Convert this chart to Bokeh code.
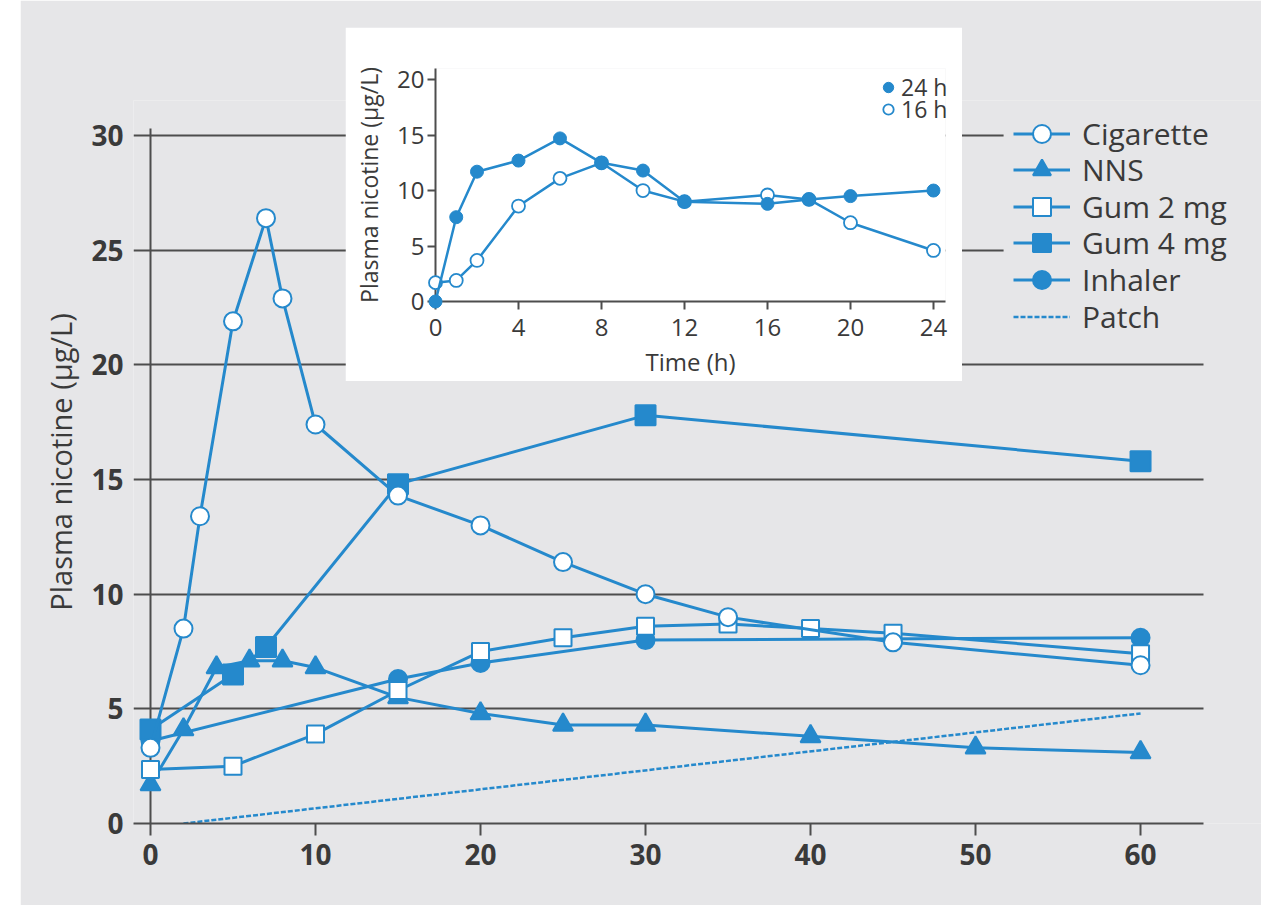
from bokeh.plotting import figure
from bokeh.models import Legend, LegendItem, FixedTicker, Range1d, Grid, BoxAnnotation
from bokeh.embed import file_html
from bokeh.resources import INLINE

# ---------------- data ----------------
cig_x = [0, 2, 3, 5, 7, 8, 10, 15, 20, 25, 30, 35, 45, 60]
cig_y = [3.3, 8.5, 13.4, 21.9, 26.4, 22.9, 17.4, 14.3, 13.0, 11.4, 10.0, 9.0, 7.9, 6.9]

nns_x = [0, 2, 4, 6, 8, 10, 15, 20, 25, 30, 40, 50, 60]
nns_y = [1.7, 4.1, 6.8, 7.1, 7.1, 6.8, 5.5, 4.8, 4.3, 4.3, 3.8, 3.3, 3.1]

gum2_x = [0, 5, 10, 15, 20, 25, 30, 35, 40, 45, 60]
gum2_y = [2.35, 2.5, 3.9, 5.8, 7.5, 8.1, 8.6, 8.7, 8.5, 8.3, 7.4]

gum4_x = [0, 5, 7, 15, 30, 60]
gum4_y = [4.1, 6.5, 7.7, 14.8, 17.8, 15.8]

inh_x = [0, 15, 20, 30, 60]
inh_y = [3.6, 6.3, 7.0, 8.0, 8.1]

patch_x = [2, 60]
patch_y = [0, 4.8]

main_xticks = [0, 10, 20, 30, 40, 50, 60]
main_yticks = [0, 5, 10, 15, 20, 25, 30]

h24_t = [0, 1, 2, 4, 6, 8, 10, 12, 16, 18, 20, 24]
h24_v = [0, 7.6, 11.7, 12.7, 14.7, 12.5, 11.8, 9.0, 8.8, 9.2, 9.5, 10.0]
h16_t = [0, 1, 2, 4, 6, 8, 10, 12, 16, 18, 20, 24]
h16_v = [1.7, 1.9, 3.7, 8.6, 11.1, 12.5, 10.0, 9.0, 9.6, 9.2, 7.1, 4.6]

inset_xticks = [0, 4, 8, 12, 16, 20, 24]
inset_yticks = [0, 5, 10, 15, 20]

# ---------------- style ----------------
BLUE = "#2589cc"
BG = "#e6e6e8"
GRID = "#4d4d4d"
TXT = "#3a3a3a"
FONT = "Open Sans"

# ---------------- main figure ----------------
# page px: frame left 133, x=0 at 150, 16.5 px/unit; y=0 at 823, 22.93 px/unit
X0, X1 = -1.03, 67.33          # x-range (frame reaches the right edge so the legend is not clipped)
Y1 = 31.53                     # y-range top (frame reaches above the legend)
AX_END = 63.82                 # where the axis rule / grid lines stop
Y_AX_TOP = 30.31               # top of the vertical axis line

p = figure(width=1241, height=905, x_range=Range1d(X0, X1), y_range=Range1d(0, Y1),
           output_backend="svg", toolbar_location=None,
           min_border_left=113, min_border_right=0, min_border_top=100, min_border_bottom=82)
p.margin = (0, 0, 0, 20)
p.background_fill_color = BG
p.border_fill_color = BG
p.outline_line_color = None

has_cross = "cross_bounds" in Grid.properties()

p.ygrid.ticker = FixedTicker(ticks=main_yticks)
p.ygrid.grid_line_color = GRID
p.ygrid.grid_line_width = 2
# vertical grid used as the y-axis rule at x = 0
p.xgrid.ticker = FixedTicker(ticks=[0])
p.xgrid.grid_line_color = GRID
p.xgrid.grid_line_width = 2
if has_cross:
    p.ygrid.cross_bounds = (X0, AX_END)
    p.xgrid.cross_bounds = (0, Y_AX_TOP)
else:
    p.ygrid.visible = False
    p.xgrid.visible = False
    p.segment(x0=[X0] * len(main_yticks), x1=[AX_END] * len(main_yticks),
              y0=main_yticks, y1=main_yticks, line_color=GRID, line_width=2)
    p.segment(x0=[0], x1=[0], y0=[0], y1=[Y_AX_TOP], line_color=GRID, line_width=2)

p.xaxis.ticker = FixedTicker(ticks=main_xticks)
p.xaxis.bounds = (X0, AX_END)
p.xaxis.axis_line_color = GRID
p.xaxis.axis_line_width = 2
p.xaxis.major_tick_line_color = GRID
p.xaxis.major_tick_line_width = 2
p.xaxis.major_tick_out = 12
p.xaxis.major_tick_in = 0
p.xaxis.minor_tick_line_color = None
p.xaxis.major_label_standoff = 8
p.xaxis.major_label_text_font = FONT
p.xaxis.major_label_text_font_size = "28px"
p.xaxis.major_label_text_font_style = "bold"
p.xaxis.major_label_text_color = TXT

p.yaxis.ticker = FixedTicker(ticks=main_yticks)
p.yaxis.axis_line_color = None
p.yaxis.major_tick_line_color = None
p.yaxis.minor_tick_line_color = None
p.yaxis.major_tick_out = 0
p.yaxis.major_tick_in = 0
p.yaxis.major_label_standoff = 10
p.yaxis.major_label_text_font = FONT
p.yaxis.major_label_text_font_size = "28px"
p.yaxis.major_label_text_font_style = "bold"
p.yaxis.major_label_text_color = TXT
p.yaxis.axis_label = "Plasma nicotine (µg/L)"
p.yaxis.axis_label_text_font = FONT
p.yaxis.axis_label_text_font_style = "normal"
p.yaxis.axis_label_text_font_size = "29px"
p.yaxis.axis_label_text_color = TXT
p.yaxis.axis_label_standoff = 8

items = {}
def series(xs, ys, marker, fill, label, size):
    l = p.line(xs, ys, line_color=BLUE, line_width=3)
    s = p.scatter(xs, ys, marker=marker, size=size, line_color=BLUE, line_width=2,
                  fill_color=fill)
    items[label] = LegendItem(label=label, renderers=[l, s])

pl = p.line(patch_x, patch_y, line_color=BLUE, line_width=2.5, line_dash="5 2")
series(inh_x, inh_y, "circle", BLUE, "Inhaler", 18)
series(nns_x, nns_y, "triangle", BLUE, "NNS", 20)
series(gum2_x, gum2_y, "square", "white", "Gum 2 mg", 17)
series(gum4_x, gum4_y, "square", BLUE, "Gum 4 mg", 20)
series(cig_x, cig_y, "circle", "white", "Cigarette", 18)
items["Patch"] = LegendItem(label="Patch", renderers=[pl])
order = ["Cigarette", "NNS", "Gum 2 mg", "Gum 4 mg", "Inhaler", "Patch"]

# opaque legend panel (hides the grid lines behind the key, as in the original)
p.add_layout(BoxAnnotation(left=51.7, bottom=21.15, fill_color=BG, fill_alpha=1,
                           line_color=None))

# one single-row legend per entry so the row pitch can be tighter than the glyph box
for i, name in enumerate(order):
    row_center = 133 + 36.6 * i          # page px
    loc_y = 823 - (row_center + 22.5)    # from frame bottom
    lg = Legend(items=[items[name]], location=(880, loc_y))
    lg.background_fill_alpha = 0
    lg.border_line_color = None
    lg.padding = 0
    lg.margin = 0
    lg.spacing = 0
    lg.glyph_width = 57
    lg.glyph_height = 45
    lg.label_height = 45
    lg.label_standoff = 12
    lg.label_text_font = FONT
    lg.label_text_font_size = "30px"
    lg.label_text_color = TXT
    p.add_layout(lg)

# ---------------- inset: axes layer ----------------
IW, IH = 617, 354
IL, IR, IT, IB = 90, 17, 41, 80
ix_end, iy_end = 24.58, 21.0
q = figure(width=IW, height=IH, x_range=Range1d(0, ix_end), y_range=Range1d(0, iy_end),
           output_backend="svg", toolbar_location=None,
           min_border_left=IL, min_border_right=IR, min_border_top=IT, min_border_bottom=IB)
q.background_fill_color = "white"
q.border_fill_color = "white"
q.outline_line_color = None
q.grid.visible = False
for ax, ticks in ((q.xaxis, inset_xticks), (q.yaxis, inset_yticks)):
    ax.ticker = FixedTicker(ticks=ticks)
    ax.axis_line_color = GRID
    ax.axis_line_width = 2
    ax.major_tick_line_color = GRID
    ax.major_tick_line_width = 2
    ax.major_tick_out = 8
    ax.major_tick_in = 0
    ax.minor_tick_line_color = None
    ax.major_label_text_font = FONT
    ax.major_label_text_font_size = "24px"
    ax.major_label_text_color = TXT
    ax.axis_label_text_font = FONT
    ax.axis_label_text_font_style = "normal"
    ax.axis_label_text_color = TXT
q.xaxis.major_label_standoff = 9
q.yaxis.major_label_standoff = 3
q.xaxis.axis_label = "Time (h)"
q.xaxis.axis_label_text_font_size = "24px"
q.xaxis.axis_label_standoff = 6
q.yaxis.axis_label = "Plasma nicotine (µg/L)"
q.yaxis.axis_label_text_font_size = "23px"
q.yaxis.axis_label_standoff = 9

# ---------------- inset: data layer (same mapping, unclipped frame) ----------------
pxu = (IW - IL - IR) / ix_end
pyu = (IH - IT - IB) / iy_end
r = figure(width=IW, height=IH,
           x_range=Range1d(-IL / pxu, (IW - IL) / pxu),
           y_range=Range1d(-IB / pyu, (IH - IB) / pyu),
           output_backend="svg", toolbar_location=None,
           x_axis_location=None, y_axis_location=None, min_border=0)
r.background_fill_alpha = 0
r.border_fill_alpha = 0
r.outline_line_color = None
r.grid.visible = False

r.line(h16_t, h16_v, line_color=BLUE, line_width=2.5)
s16 = r.scatter(h16_t, h16_v, marker="circle", size=13, line_color=BLUE, line_width=1.8, fill_color="white")
r.line(h24_t, h24_v, line_color=BLUE, line_width=2.5)
s24 = r.scatter(h24_t, h24_v, marker="circle", size=13, line_color=BLUE, fill_color=BLUE)

for name, rend, center in (("24 h", s24, 88), ("16 h", s16, 110)):
    lg = Legend(items=[LegendItem(label=name, renderers=[rend])],
                location=(530, 381 - (center + 15)))
    lg.background_fill_alpha = 0
    lg.border_line_color = None
    lg.padding = 0
    lg.margin = 0
    lg.glyph_width = 26
    lg.glyph_height = 30
    lg.label_height = 30
    lg.label_standoff = 0
    lg.label_text_font = FONT
    lg.label_text_font_size = "23px"
    lg.label_text_color = TXT
    r.add_layout(lg)

q.styles = {"position": "absolute", "left": "345px", "top": "27px", "z-index": "10"}
r.styles = {"position": "absolute", "left": "345px", "top": "27px", "z-index": "11"}

open("out.html", "w").write(file_html([p, q, r], INLINE))
